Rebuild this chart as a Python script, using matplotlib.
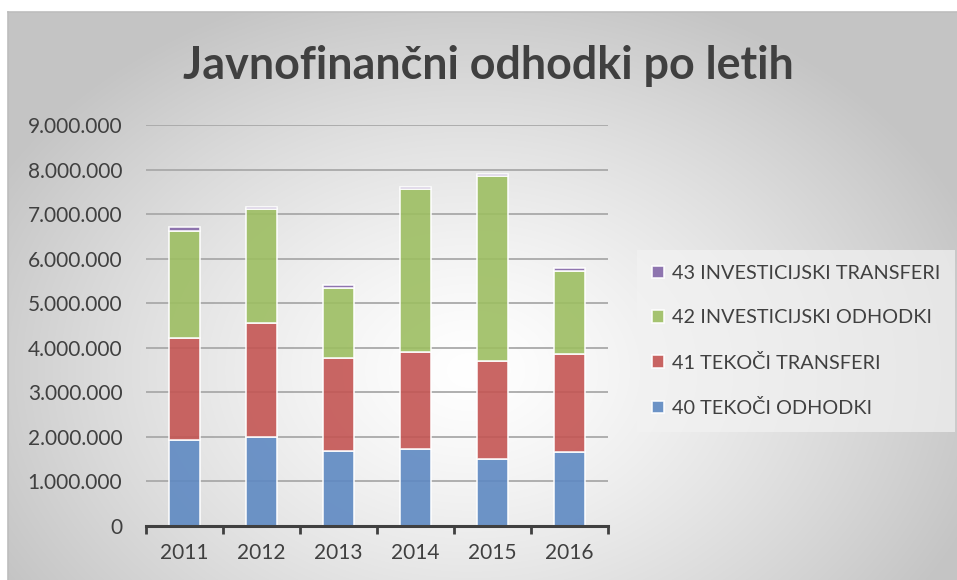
import matplotlib
matplotlib.use("Agg")
import matplotlib.pyplot as plt
import numpy as np

# podatki (odčitano s slike)
years = ["2011", "2012", "2013", "2014", "2015", "2016"]
tekoci_odhodki = [1930000, 2000000, 1690000, 1730000, 1500000, 1660000]
tekoci_transferi = [2290000, 2560000, 2080000, 2170000, 2200000, 2210000]
investicijski_odhodki = [2410000, 2550000, 1570000, 3660000, 4150000, 1850000]
investicijski_transferi = [80000, 60000, 70000, 50000, 50000, 60000]

labels = ["40 TEKOČI ODHODKI", "41 TEKOČI TRANSFERI",
          "42 INVESTICIJSKI ODHODKI", "43 INVESTICIJSKI TRANSFERI"]
colors = ["#5E89C2", "#C45553", "#9DBE62", "#8468A8"]
yticks = [0, 1000000, 2000000, 3000000, 4000000, 5000000,
          6000000, 7000000, 8000000, 9000000]

plt.rcParams["font.family"] = ["Lato", "DejaVu Sans"]

W, H = 957, 580
fig = plt.figure(figsize=(W / 100, H / 100), dpi=100)
fig.patch.set_facecolor("white")

# ozadje grafa - radialni preliv
bg = fig.add_axes([8 / W, 0, 1 - 8 / W, (H - 12) / H], zorder=-5)
yy, xx = np.mgrid[12:H, 8:W]
cx, cy = 470, 370
t = np.sqrt(((xx - cx) / 540.0) ** 2 + ((yy - cy) / 400.0) ** 2)
t = np.clip(t, 0, 1)
v = 1.0 - 0.23 * t ** 1.3
img = np.dstack([v, v, v])
bg.imshow(img, aspect="auto", interpolation="bilinear")
bg.set_xticks([])
bg.set_yticks([])
for s in ["right", "bottom"]:
    bg.spines[s].set_visible(False)
for s in ["top", "left"]:
    bg.spines[s].set_color("#bdbdbd")
    bg.spines[s].set_linewidth(1.2)

ax = fig.add_axes([146 / W, (H - 526) / H, 462 / W, 401 / H])
ax.patch.set_alpha(0)

x = np.arange(len(years))
series = [tekoci_odhodki, tekoci_transferi, investicijski_odhodki, investicijski_transferi]
bottom = np.zeros(len(years))
handles = []
for vals, c, lab in zip(series, colors, labels):
    b = ax.bar(x, vals, width=0.39, bottom=bottom, color=c, alpha=0.9,
               edgecolor=(1, 1, 1, 0.55), linewidth=1.2, zorder=3, label=lab)
    handles.append(b)
    bottom = bottom + np.array(vals)

ax.set_xlim(-0.5, len(years) - 0.5)
ax.set_ylim(0, 9000000)
ax.set_yticks(yticks)
ax.set_yticklabels(["{:,}".format(v).replace(",", ".") for v in yticks])
ax.yaxis.grid(True, color="#a9a9a9", linewidth=1.3, zorder=0)
ax.set_axisbelow(True)

ax.set_xticks(x)
ax.set_xticklabels(years)
ax.set_xticks(np.arange(-0.5, len(years), 1), minor=True)
ax.tick_params(axis="x", which="major", length=0, pad=12, labelsize=15, colors="#404040")
ax.tick_params(axis="x", which="minor", length=6, width=2, color="#404040", direction="out")
ax.tick_params(axis="y", length=0, pad=17, labelsize=15, colors="#404040")

for s in ["top", "right", "left"]:
    ax.spines[s].set_visible(False)
ax.spines["bottom"].set_color("#404040")
ax.spines["bottom"].set_linewidth(2.2)
ax.spines["bottom"].set_zorder(4)

fig.text(488 / W, 1 - 66 / H, "Javnofinančni odhodki po letih", ha="center", va="center",
         fontsize=32.3, fontweight="bold", color="#404040")

leg = fig.legend([h.patches[0] for h in handles[::-1]], labels[::-1],
                 loc="upper left", bbox_to_anchor=(637 / W, 1 - 250 / H),
                 frameon=True, fontsize=14.3, labelspacing=1.38,
                 handlelength=0.6, handleheight=0.6, handletextpad=0.4,
                 borderpad=0.75, borderaxespad=0, fancybox=False)
leg.get_frame().set_facecolor("#f2f2f2")
leg.get_frame().set_alpha(0.7)
leg.get_frame().set_edgecolor("none")
for txt in leg.get_texts():
    txt.set_color("#404040")

fig.savefig("out.png", dpi=100)
